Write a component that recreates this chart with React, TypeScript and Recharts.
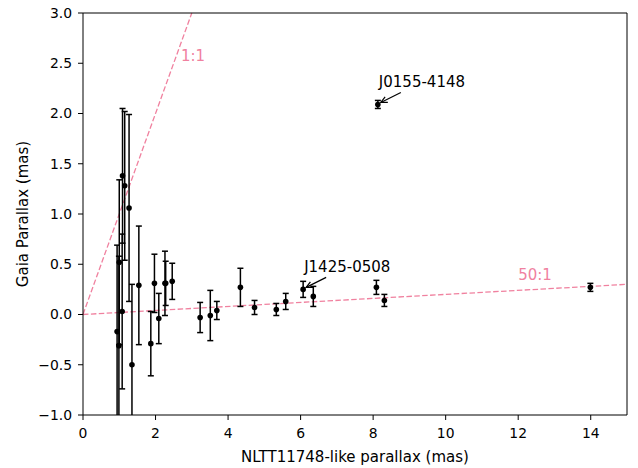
import React from 'react';
import * as R from 'recharts';
import { ScatterChart, Scatter, XAxis, YAxis, ErrorBar, ReferenceLine, Label } from 'recharts';

// NLTT11748-like parallax (mas)
const nlttParallax = [0.94, 0.99, 1.0, 1.08, 1.09, 1.15, 1.27, 1.35, 1.54, 1.87, 1.97, 2.09, 2.26, 2.28, 2.46, 3.23, 3.51, 3.69, 4.34, 4.73, 5.33, 5.59, 6.07, 6.35, 8.09, 8.13, 8.31, 13.99];
// Gaia parallax (mas)
const gaiaParallax = [-0.17, -0.31, 0.52, 0.03, 1.38, 1.28, 1.06, -0.5, 0.29, -0.29, 0.31, -0.04, 0.31, 0.31, 0.33, -0.03, -0.01, 0.04, 0.27, 0.07, 0.05, 0.13, 0.25, 0.18, 0.27, 2.09, 0.14, 0.27];
// Gaia parallax error (mas)
const gaiaError = [0.86, 0.89, 0.82, 0.77, 0.67, 0.74, 0.93, 0.8, 0.59, 0.32, 0.29, 0.25, 0.32, 0.22, 0.18, 0.15, 0.25, 0.09, 0.19, 0.07, 0.06, 0.08, 0.08, 0.1, 0.07, 0.04, 0.06, 0.04];

const annotationNames = ['J0155-4148', 'J1425-0508'];
const annotationX = [8.13, 6.07];
const annotationY = [2.09, 0.25];

const ratioLabels = ['1:1', '50:1'];
const ratioLabelX = [2.7, 12.0];
const ratioLabelY = [2.52, 0.34];

const oneToOne = [{ x: 0, y: 0 }, { x: 3, y: 3 }];
const fiftyToOne = [{ x: 0, y: 0 }, { x: 15, y: 0.3 }];

const xTicks = [0, 2, 4, 6, 8, 10, 12, 14];
const yTicks = [-1, -0.5, 0, 0.5, 1, 1.5, 2, 2.5, 3];

const data = nlttParallax.map((x, i) => ({ x, y: gaiaParallax[i], err: gaiaError[i] }));
const annotations = annotationNames.map((label, i) => ({ x: annotationX[i], y: annotationY[i], label }));
const ratioText = ratioLabels.map((label, i) => ({ x: ratioLabelX[i], y: ratioLabelY[i], label }));

const PINK = '#f0819f';
const FONT = 'DejaVu Sans, sans-serif';

const usePlot: any = (R as any).usePlotArea || (R as any).useOffset || (() => null);

const PlotClip = () => {
  const area: any = usePlot();
  if (!area) return null;
  const x = area.x ?? area.left;
  const y = area.y ?? area.top;
  const w = area.width;
  const h = area.height;
  if (x == null || y == null || w == null || h == null) return null;
  return (
    <defs>
      <clipPath id="plot-area-clip">
        <rect x={x} y={y} width={w} height={h} />
      </clipPath>
    </defs>
  );
};

const Dot = (props: any) => {
  const { cx, cy } = props;
  if (cx == null || cy == null) return null;
  return <circle cx={cx} cy={cy} r={2.8} fill="#000" />;
};

const AnnotShape = (props: any) => {
  const { cx, cy, payload } = props;
  const x1 = cx + 23, y1 = cy - 12;
  const x2 = cx + 3, y2 = cy - 2;
  const ang = Math.atan2(y2 - y1, x2 - x1);
  const L = 7, spread = 0.45;
  const a1x = x2 - L * Math.cos(ang - spread), a1y = y2 - L * Math.sin(ang - spread);
  const a2x = x2 - L * Math.cos(ang + spread), a2y = y2 - L * Math.sin(ang + spread);
  return (
    <g>
      <line x1={x1} y1={y1} x2={x2} y2={y2} stroke="#000" strokeWidth={1.2} />
      <polyline points={`${a1x},${a1y} ${x2},${y2} ${a2x},${a2y}`} fill="none" stroke="#000" strokeWidth={1.2} />
      <text x={cx + 1} y={cy - 17} fontSize={15} fontFamily={FONT} fill="#000">{payload.label}</text>
    </g>
  );
};

const RatioText = (props: any) => {
  const { cx, cy, payload } = props;
  return <text x={cx} y={cy} fontSize={15} fontFamily={FONT} fill={PINK}>{payload.label}</text>;
};

const fmtY = (v: number) => v.toFixed(1).replace('-', '\u2212');

export default function App() {
  return (
    <div style={{ position: 'absolute', left: 0, top: 0, background: '#fff' }}>
      <style>{'.recharts-errorBars, .recharts-errorBar { clip-path: url(#plot-area-clip); }'}</style>
      <ScatterChart width={638} height={468} margin={{ top: 13, right: 11, bottom: 0, left: 0 }}>
        <PlotClip />
        <XAxis
          type="number"
          dataKey="x"
          domain={[0, 15]}
          ticks={xTicks}
          allowDataOverflow
          height={53}
          tickSize={5}
          tickMargin={8}
          stroke="#000"
          tick={{ fill: '#000', fontSize: 13.9, fontFamily: FONT }}
        >
          <Label
            value="NLTT11748-like parallax (mas)"
            position="insideBottom"
            offset={6}
            style={{ fill: '#000', fontSize: 15, fontFamily: FONT }}
          />
        </XAxis>
        <YAxis
          type="number"
          dataKey="y"
          domain={[-1, 3]}
          ticks={yTicks}
          allowDataOverflow
          width={83}
          tickSize={5}
          tickMargin={6}
          tickFormatter={fmtY}
          stroke="#000"
          tick={{ fill: '#000', fontSize: 13.9, fontFamily: FONT }}
        >
          <Label
            content={() => (
              <text
                x={23}
                y={214}
                transform="rotate(-90 23 214)"
                textAnchor="middle"
                dominantBaseline="central"
                fontSize={15}
                fontFamily={FONT}
                fill="#000"
              >
                Gaia Parallax (mas)
              </text>
            )}
          />
        </YAxis>
        <ReferenceLine segment={oneToOne} stroke={PINK} strokeWidth={1.3} strokeDasharray="5.5 2.4" ifOverflow="visible" />
        <ReferenceLine segment={fiftyToOne} stroke={PINK} strokeWidth={1.3} strokeDasharray="5.5 2.4" ifOverflow="visible" />
        <ReferenceLine y={3} stroke="#000" strokeWidth={1} ifOverflow="visible" />
        <ReferenceLine x={15} stroke="#000" strokeWidth={1} ifOverflow="visible" />
        <Scatter data={data} shape={<Dot />} isAnimationActive={false}>
          <ErrorBar dataKey="err" direction="y" width={3} stroke="#000" strokeWidth={1.5} />
        </Scatter>
        <Scatter data={annotations} shape={<AnnotShape />} isAnimationActive={false} />
        <Scatter data={ratioText} shape={<RatioText />} isAnimationActive={false} />
      </ScatterChart>
    </div>
  );
}
